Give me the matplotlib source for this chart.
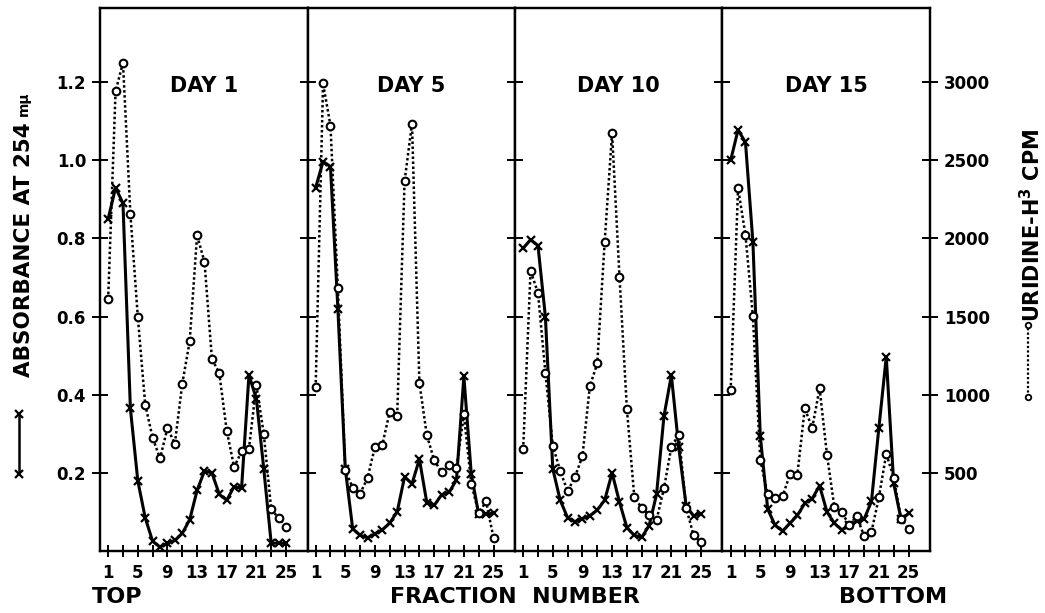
import matplotlib
matplotlib.use("Agg")
import matplotlib.pyplot as plt
from matplotlib.lines import Line2D

fractions = list(range(1, 26))
days = ["DAY 1", "DAY 5", "DAY 10", "DAY 15"]

# absorbance at 254 mu (solid line, x markers)
abs_day1 = [0.85, 0.93, 0.89, 0.365, 0.18, 0.085, 0.025, 0.01, 0.02, 0.027, 0.045, 0.08, 0.155,
            0.205, 0.20, 0.145, 0.13, 0.165, 0.16, 0.45, 0.39, 0.21, 0.02, 0.02, 0.02]
abs_day5 = [0.93, 0.997, 0.984, 0.62, 0.21, 0.057, 0.04, 0.034, 0.044, 0.054, 0.072, 0.10, 0.19,
            0.172, 0.235, 0.124, 0.117, 0.144, 0.15, 0.182, 0.447, 0.197, 0.094, 0.094, 0.097]
abs_day10 = [0.775, 0.797, 0.782, 0.60, 0.21, 0.13, 0.085, 0.075, 0.083, 0.09, 0.105, 0.13, 0.20,
             0.125, 0.06, 0.04, 0.035, 0.065, 0.145, 0.345, 0.45, 0.265, 0.115, 0.09, 0.095]
abs_day15 = [1.0, 1.078, 1.046, 0.792, 0.294, 0.107, 0.066, 0.051, 0.071, 0.091, 0.122, 0.134, 0.167,
             0.10, 0.071, 0.054, 0.066, 0.076, 0.081, 0.127, 0.315, 0.497, 0.173, 0.081, 0.096]

# uridine-H3 cpm (dotted line, open circles)
cpm_day1 = [1612, 2942, 3125, 2158, 1500, 937, 725, 592, 787, 687, 1070, 1342, 2020,
            1850, 1230, 1137, 770, 537, 637, 655, 1062, 750, 267, 212, 155]
cpm_day5 = [1047, 2992, 2722, 1680, 517, 405, 367, 467, 667, 680, 892, 867, 2367,
            2735, 1075, 742, 580, 505, 550, 530, 875, 430, 242, 317, 85]
cpm_day10 = [650, 1795, 1650, 1142, 675, 512, 382, 475, 607, 1055, 1200, 1980, 2675,
             1755, 907, 345, 275, 232, 200, 400, 667, 745, 275, 100, 55]
cpm_day15 = [1028, 2322, 2022, 1502, 583, 362, 337, 350, 490, 487, 913, 787, 1040,
             615, 280, 248, 165, 223, 97, 122, 343, 622, 470, 203, 140]

abs_series = [abs_day1, abs_day5, abs_day10, abs_day15]
cpm_series = [cpm_day1, cpm_day5, cpm_day10, cpm_day15]

abs_ticks = [0.2, 0.4, 0.6, 0.8, 1.0, 1.2]
cpm_ticks = [500, 1000, 1500, 2000, 2500, 3000]
x_ticks = list(range(1, 26, 2))
x_labels = [str(f) if (f - 1) % 4 == 0 else "" for f in x_ticks]

YMAX = 1.39
CMAX = YMAX * 2500
DOTS = (0, (1, 1))

plt.rcParams["font.family"] = ["DejaVu Sans"]
plt.rcParams["font.weight"] = "bold"
fig = plt.figure(figsize=(10.45, 6.13), dpi=100)
left, right, bottom, top = 100 / 1045, 930 / 1045, 62 / 613, 605 / 613
w = (right - left) / 4

for i in range(4):
    ax = fig.add_axes([left + i * w, bottom, w, top - bottom])
    ax.plot(fractions, abs_series[i], color="black", lw=2.2, marker="x", ms=6, mew=1.6)
    ax.set_xlim(-0.1, 27.9)
    ax.set_ylim(0, YMAX)
    ax.set_xticks(x_ticks)
    ax.set_xticklabels(x_labels, fontsize=12)
    ax.set_yticks(abs_ticks)
    ax.tick_params(axis="both", direction="inout", width=1.4, colors="black")
    ax.tick_params(axis="y", length=12, pad=4)
    ax.tick_params(axis="x", length=8, pad=5)
    if i == 0:
        ax.set_yticklabels([f"{t:.1f}" for t in abs_ticks], fontsize=12)
    else:
        ax.set_yticklabels([])
    for s in ax.spines.values():
        s.set_linewidth(1.6)

    ax2 = ax.twinx()
    ax2.plot(fractions, cpm_series[i], color="black", lw=1.8, ls=DOTS, marker="o", ms=5.5,
             mfc="white", mew=1.5)
    ax2.set_ylim(0, CMAX)
    ax2.set_xlim(-0.1, 27.9)
    if i == 3:
        ax2.set_yticks(cpm_ticks)
        ax2.set_yticklabels([str(t) for t in cpm_ticks], fontsize=12)
        ax2.tick_params(axis="y", direction="inout", length=12, width=1.4, pad=4)
    else:
        ax2.set_yticks([])
    for s in ax2.spines.values():
        s.set_linewidth(1.6)

    ax.text(0.5, 1.19 / YMAX, days[i], transform=ax.transAxes, ha="center", va="center",
            fontsize=15)

# axis titles
fig.text(24 / 1045, 1 - 250 / 613, "ABSORBANCE AT 254", rotation=90, ha="center", va="center",
         fontsize=15.5)
fig.text(24 / 1045, 1 - 104 / 613, "m\u03bc", rotation=90, ha="center", va="center", fontsize=10)
fig.text(1032 / 1045, 1 - 225 / 613, "URIDINE-H$^\\mathbf{3}$ CPM", rotation=90, ha="center",
         va="center", fontsize=15)
fig.text(117 / 1045, 1 - 597 / 613, "TOP", ha="center", va="center", fontsize=16)
fig.text(515 / 1045, 1 - 597 / 613, "FRACTION  NUMBER", ha="center", va="center", fontsize=16)
fig.text(893 / 1045, 1 - 597 / 613, "BOTTOM", ha="center", va="center", fontsize=16)

# legend keys beside the axis titles
fig.add_artist(Line2D([19 / 1045, 19 / 1045], [1 - 474 / 613, 1 - 414 / 613], color="black",
                      lw=1.8, marker="x", ms=6, mew=1.6, transform=fig.transFigure))
fig.add_artist(Line2D([1028 / 1045, 1028 / 1045], [1 - 397 / 613, 1 - 325 / 613], color="black",
                      lw=1.6, ls=DOTS, marker="o", ms=4, mfc="white", mew=1.3,
                      transform=fig.transFigure))

fig.savefig("out.png", dpi=100)
